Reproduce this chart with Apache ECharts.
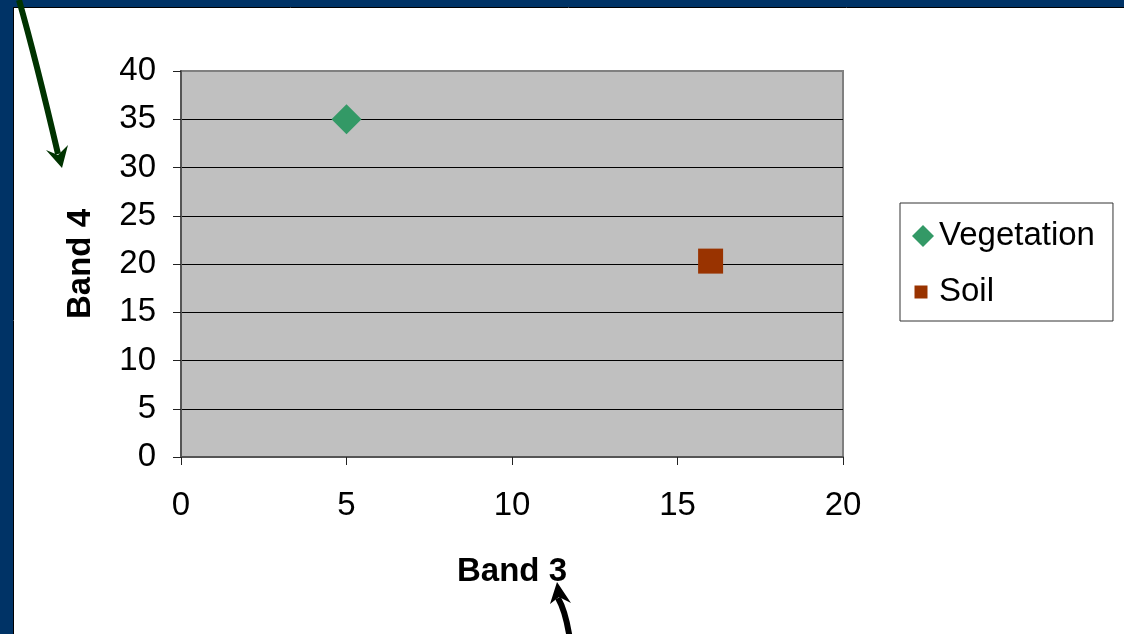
<!DOCTYPE html>
<html>
<head>
<meta charset="utf-8">
<script src="https://cdn.jsdelivr.net/npm/echarts@6/dist/echarts.min.js"></script>
<style>
  html, body { margin: 0; padding: 0; background: #ffffff; }
  #chart { width: 1124px; height: 634px; }
</style>
</head>
<body>
<div id="chart"></div>
<script>
// Reflectance samples: Band 3 (x) vs Band 4 (y)
const seriesNames = ['Vegetation', 'Soil'];
const vegetationX = [5];
const vegetationY = [35];
const soilX = [16];
const soilY = [20.3];

// Axis ranges and tick steps
const xTicks = [0, 5, 10, 15, 20];
const yTicks = [0, 5, 10, 15, 20, 25, 30, 35, 40];

const FONT = '"Liberation Sans", Arial, sans-serif';

function pairs(xs, ys) {
  return xs.map((x, i) => [x, ys[i]]);
}

const chart = echarts.init(document.getElementById('chart'), null, { renderer: 'canvas' });

const option = {
  backgroundColor: '#ffffff',
  animation: false,
  textStyle: { fontFamily: FONT },
  grid: {
    left: 181, right: 281, top: 71, bottom: 177,
    show: true,
    backgroundColor: '#c0c0c0',
    borderColor: '#808080',
    borderWidth: 2
  },
  xAxis: {
    type: 'value',
    min: xTicks[0],
    max: xTicks[xTicks.length - 1],
    interval: xTicks[1] - xTicks[0],
    name: 'Band 3',
    nameLocation: 'middle',
    nameGap: 98,
    nameTextStyle: { fontFamily: FONT, fontSize: 33, fontWeight: 'bold', color: '#000' },
    axisLine: { show: true, onZero: false, lineStyle: { color: '#555', width: 2 } },
    axisTick: { show: true, inside: false, length: 8, lineStyle: { color: '#222', width: 1 } },
    axisLabel: { margin: 32, fontSize: 33, color: '#000', fontFamily: FONT },
    splitLine: { show: false }
  },
  yAxis: {
    type: 'value',
    min: yTicks[0],
    max: yTicks[yTicks.length - 1],
    interval: yTicks[1] - yTicks[0],
    name: 'Band 4',
    nameLocation: 'middle',
    nameGap: 84,
    nameRotate: 90,
    nameTextStyle: { fontFamily: FONT, fontSize: 33, fontWeight: 'bold', color: '#000' },
    axisLine: { show: true, onZero: false, lineStyle: { color: '#555', width: 2 } },
    axisTick: { show: true, inside: false, length: 8, lineStyle: { color: '#222', width: 1 } },
    axisLabel: { margin: 25, fontSize: 33, color: '#000', fontFamily: FONT },
    splitLine: {
      show: true, showMinLine: false, showMaxLine: false,
      lineStyle: { color: '#000', width: 1 }
    }
  },
  legend: {
    orient: 'vertical',
    left: 900,
    top: 203,
    padding: [15, 18, 11, 12],
    itemWidth: 22,
    itemHeight: 22,
    itemGap: 20,
    itemTextGap: 14,
    borderColor: '#333',
    borderWidth: 1,
    backgroundColor: '#ffffff',
    textStyle: { fontFamily: FONT, fontSize: 33, color: '#000', lineHeight: 36 },
    data: [
      { name: seriesNames[0], icon: 'diamond' },
      { name: seriesNames[1], icon: 'path://M0,0M22,22M2.5,4.5H15.5V17.5H2.5Z' }
    ]
  },
  series: [
    {
      name: seriesNames[0],
      type: 'scatter',
      symbol: 'diamond',
      symbolSize: 30,
      itemStyle: { color: '#339966', opacity: 1 },
      data: pairs(vegetationX, vegetationY),
      z: 5
    },
    {
      name: seriesNames[1],
      type: 'scatter',
      symbol: 'rect',
      symbolSize: 25,
      itemStyle: { color: '#993300', opacity: 1 },
      data: pairs(soilX, soilY),
      z: 5
    }
  ],
  graphic: [
    // slide frame
    { type: 'rect', shape: { x: 0, y: 0, width: 1124, height: 7 }, style: { fill: '#003366' }, z: 100 },
    { type: 'rect', shape: { x: 0, y: 0, width: 13, height: 634 }, style: { fill: '#003366' }, z: 100 },
    { type: 'line', shape: { x1: 13, y1: 7.5, x2: 1124, y2: 7.5 }, style: { stroke: '#000', lineWidth: 1 }, z: 101 },
    { type: 'line', shape: { x1: 13.5, y1: 7, x2: 13.5, y2: 634 }, style: { stroke: '#000', lineWidth: 1 }, z: 101 },
    // pointer toward the Band 4 title
    {
      type: 'bezierCurve',
      shape: { x1: 19, y1: 0, x2: 58, y2: 154, cpx1: 36, cpy1: 60 },
      style: { stroke: '#003300', lineWidth: 6, fill: null },
      z: 102
    },
    {
      type: 'polygon',
      shape: { points: [[62, 168], [46, 150], [58, 155], [68, 145]] },
      style: { fill: '#003300' },
      z: 102
    },
    // pointer toward the Band 3 title
    {
      type: 'bezierCurve',
      shape: { x1: 570, y1: 640, x2: 558, y2: 598, cpx1: 566, cpy1: 612 },
      style: { stroke: '#000', lineWidth: 6, fill: null },
      z: 102
    },
    {
      type: 'polygon',
      shape: { points: [[557, 582], [550, 604], [559, 597], [571, 603]] },
      style: { fill: '#000' },
      z: 102
    }
  ]
};

chart.setOption(option);
</script>
</body>
</html>
